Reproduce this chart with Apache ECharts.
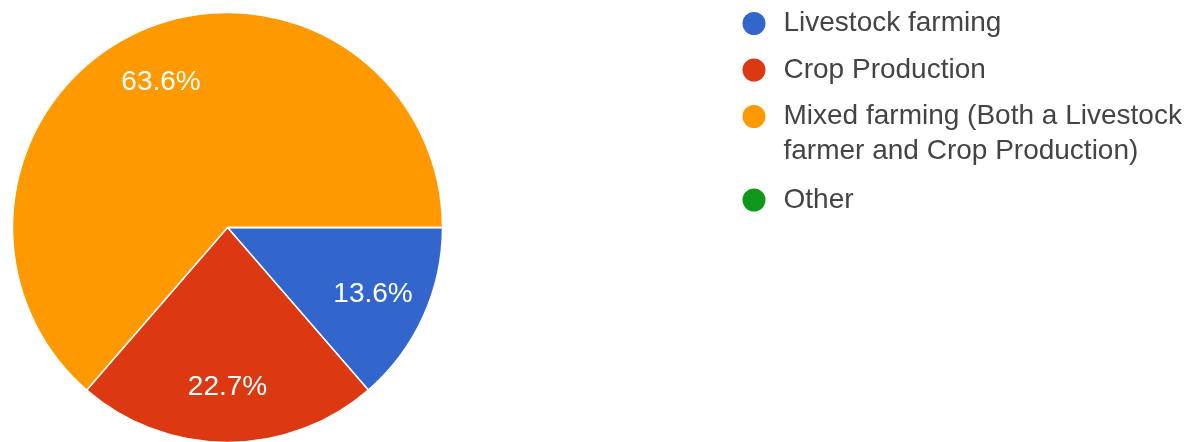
<!DOCTYPE html>
<html>
<head>
<meta charset="utf-8">
<script src="https://cdn.jsdelivr.net/npm/echarts@6/dist/echarts.min.js"></script>
<style>
  html, body { margin: 0; padding: 0; background: #fff; }
  #chart { width: 1197px; height: 442px; }
</style>
</head>
<body>
<div id="chart"></div>
<script>
// Survey answers: type of farming practised
const categories = [
  'Livestock farming',
  'Crop Production',
  'Mixed farming (Both a Livestock farmer and Crop Production)',
  'Other'
];
const responses = [3, 5, 14, 0];
const sliceColors = ['#3366cc', '#dc3912', '#ff9900', '#109618'];

const FONT = 'Arial, "Liberation Sans", sans-serif';
const PIE_CENTER = [227.5, 227.5];
const PIE_R = 215;
const total = responses.reduce((a, b) => a + b, 0);

const pieData = categories.map((name, i) => ({
  name,
  value: responses[i],
  itemStyle: { color: sliceColors[i] }
}));

// Same slices, unpainted, used only to place the percentage labels further out
const labelData = categories.map((name, i) => ({
  name,
  value: responses[i],
  label: { show: responses[i] > 0 }
}));

const legendText = {
  fontFamily: FONT,
  fontSize: 28,
  color: '#444',
  lineHeight: 34,
  padding: [0, 0, 0, 12]
};

const legendBase = {
  orient: 'vertical',
  left: 740.5,
  padding: 0,
  itemWidth: 25,
  itemHeight: 25,
  itemGap: 12.5,
  icon: 'circle',
  selectedMode: false,
  textStyle: legendText
};

const chart = echarts.init(document.getElementById('chart'), null, { renderer: 'canvas' });
chart.setOption({
  animation: false,
  backgroundColor: '#ffffff',
  legend: [
    Object.assign({}, legendBase, {
      top: 6.5,
      data: [categories[0], categories[1]]
    }),
    Object.assign({}, legendBase, {
      top: 64,
      data: [categories[2]],
      // leading blank line keeps the first text line level with the marker
      formatter: () => ' \nMixed farming (Both a Livestock\nfarmer and Crop Production)',
      textStyle: Object.assign({}, legendText, { lineHeight: 35 })
    }),
    Object.assign({}, legendBase, {
      top: 183,
      data: [categories[3]]
    })
  ],
  series: [
    {
      type: 'pie',
      center: PIE_CENTER,
      radius: [0, PIE_R],
      startAngle: 0,
      clockwise: true,
      silent: true,
      label: { show: false },
      labelLine: { show: false },
      emphasis: { disabled: true },
      itemStyle: { borderColor: '#ffffff', borderWidth: 1.5 },
      data: pieData
    },
    {
      type: 'pie',
      center: PIE_CENTER,
      radius: [99, PIE_R],
      startAngle: 0,
      clockwise: true,
      silent: true,
      itemStyle: { color: 'rgba(0,0,0,0)', borderWidth: 0 },
      emphasis: { disabled: true },
      labelLine: { show: false },
      label: {
        position: 'inside',
        formatter: (p) => (p.value / total * 100).toFixed(1) + '%',
        color: '#ffffff',
        fontFamily: FONT,
        fontSize: 28,
        textBorderWidth: 0
      },
      data: labelData
    }
  ]
});
</script>
</body>
</html>
